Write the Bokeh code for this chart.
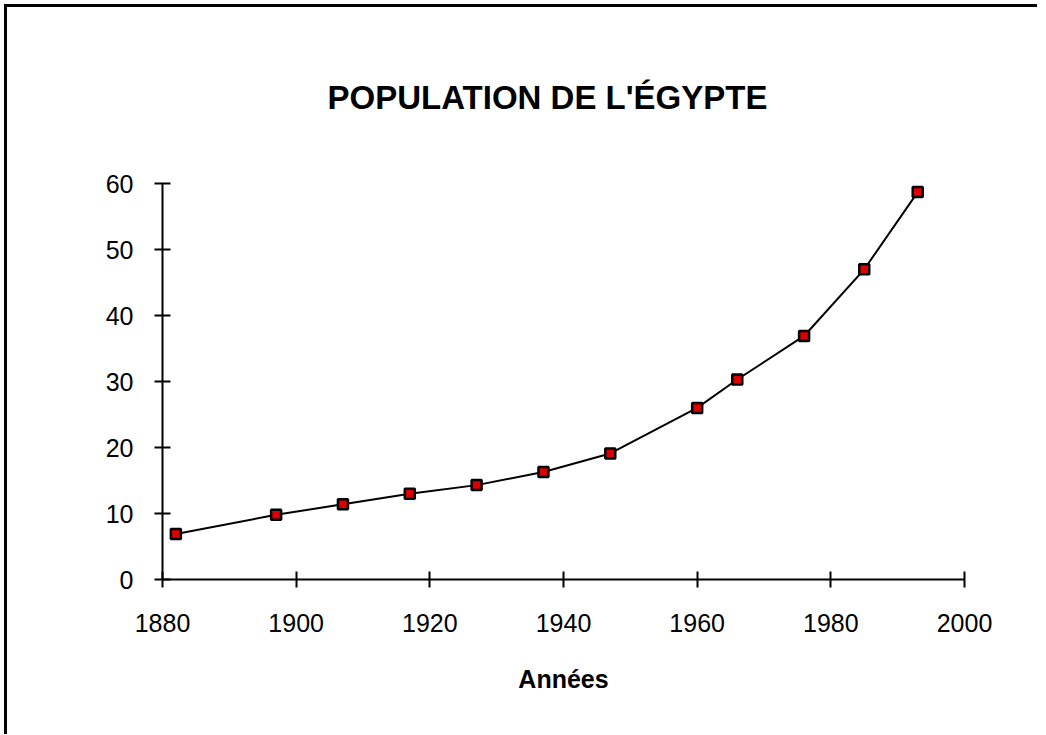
from bokeh.plotting import figure
from bokeh.models import Range1d, FixedTicker, ColumnDataSource
from bokeh.embed import file_html
from bokeh.resources import INLINE

years = [1882, 1897, 1907, 1917, 1927, 1937, 1947, 1960, 1966, 1976, 1985, 1993]
population = [6.9, 9.8, 11.4, 13.0, 14.3, 16.3, 19.1, 26.0, 30.3, 36.9, 47.0, 58.7]
x_ticks = [1880, 1900, 1920, 1940, 1960, 1980, 2000]
y_ticks = [0, 10, 20, 30, 40, 50, 60]
title_text = "POPULATION DE L'ÉGYPTE"
x_label = "Années"

FONT = "Liberation Sans"

src = ColumnDataSource(dict(x=years, y=population))

p = figure(width=1030, height=727, output_backend="svg", toolbar_location=None,
           x_range=Range1d(1880, 2000), y_range=Range1d(0, 60),
           frame_width=802, frame_height=396,
           min_border_left=155, min_border_top=176, min_border_right=73,
           min_border_bottom=155,
           title=title_text)
p.styles = {"border-left": "3px solid black", "border-top": "3px solid black",
            "margin-left": "4px", "margin-top": "4px"}

p.title.text_font = FONT
p.title.text_font_size = "33px"
p.title.text_font_style = "bold"
p.title.align = "left"
p.title.offset = 165
p.title.standoff = 135
p.title.text_color = "black"

p.outline_line_color = None
p.xgrid.grid_line_color = None
p.ygrid.grid_line_color = None
p.background_fill_color = "white"
p.border_fill_color = "white"

for ax in (p.xaxis[0], p.yaxis[0]):
    ax.axis_line_width = 2
    ax.axis_line_color = "black"
    ax.major_tick_line_width = 2
    ax.major_tick_line_color = "black"
    ax.major_tick_in = 8
    ax.major_tick_out = 8
    ax.minor_tick_line_color = None
    ax.major_label_text_font = FONT
    ax.major_label_text_font_size = "25px"
    ax.major_label_text_color = "black"

p.xaxis[0].ticker = FixedTicker(ticks=x_ticks)
p.yaxis[0].ticker = FixedTicker(ticks=y_ticks)
p.xaxis[0].major_label_standoff = 26
p.yaxis[0].major_label_standoff = 21
p.xaxis[0].axis_label = x_label
p.xaxis[0].axis_label_text_font = FONT
p.xaxis[0].axis_label_text_font_size = "25px"
p.xaxis[0].axis_label_text_font_style = "bold"
p.xaxis[0].axis_label_text_color = "black"
p.xaxis[0].axis_label_standoff = 30

p.line("x", "y", source=src, line_color="black", line_width=2)
p.scatter("x", "y", source=src, marker="square", size=10, fill_color="#DD0000",
          line_color="black", line_width=2.5)

open("out.html", "w").write(file_html(p, INLINE))
